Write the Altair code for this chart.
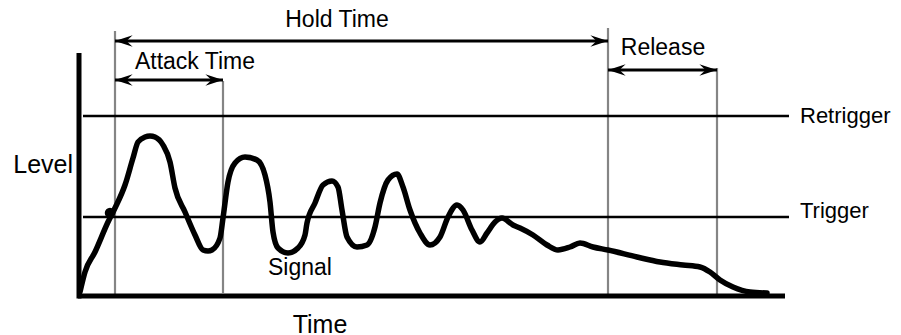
import altair as alt
import pandas as pd

# ---- data (time units ~ px from the level axis, level units ~ px above the time axis)
signal_time = [1, 6, 16, 29, 36, 46, 54, 59, 66, 71, 76, 84, 91, 96, 106, 116, 124, 129, 133,
               141, 144, 149, 156, 166, 178, 186, 191, 194, 199, 209, 219, 226, 228, 236, 244,
               253, 259, 263, 268, 278, 288, 296, 301, 309, 318, 324, 331, 341, 351, 361, 369,
               378, 384, 393, 401, 408, 416, 423, 434, 441, 454, 468, 479, 491, 501, 514, 529,
               558, 581, 604, 621, 631, 641, 654, 671, 688]
signal_level = [4, 24, 44, 74, 88, 111, 138, 154, 159, 160, 159, 151, 134, 108, 84, 61, 46, 45, 46,
                58, 78, 114, 133, 139, 136, 121, 94, 64, 48, 43, 48, 61, 73, 93, 111,
                115, 109, 86, 59, 49, 51, 69, 93, 116, 122, 109, 86, 63, 51, 59, 79,
                91, 86, 66, 54, 63, 74, 78, 71, 68, 61, 51, 46, 49, 53, 49, 46,
                39, 34, 31, 29, 24, 16, 9, 4, 3]

dot_time = [31]
dot_level = [83]

threshold_names = ["Retrigger", "Trigger"]
threshold_levels = [180, 79]
threshold_start = [4, 4]
threshold_end = [710, 710]
threshold_label_time = [721, 721]
threshold_label_level = [173, 78]

marker_times = [36, 144, 529, 638]
marker_tops = [265, 215, 268, 228]
marker_bottoms = [-1, 3, 2, 0]

span_names = ["Hold Time", "Attack Time", "Release"]
span_start = [36, 36, 529]
span_end = [529, 144, 638]
span_levels = [255, 216, 226]
span_label_time = [258, 116, 584]
span_label_level = [269, 227, 241]

axis_names = ["Level", "Time"]
axis_label_time = [-6, 241]
axis_label_level = [123, -37]

signal_name = ["Signal"]
signal_label_time = [189]
signal_label_level = [21]

axis_line_x = {"t0": [-1], "t1": [706], "level": [0]}
axis_line_y = {"t": [0], "l0": [-2.5], "l1": [243]}

# ---- chart geometry
W, H = 885, 327
xs = alt.Scale(domain=[-71, -71 + W], nice=False, zero=False)
ys = alt.Scale(domain=[288 - H, 288], nice=False, zero=False)
FONT = "Liberation Sans"

sig_df = pd.DataFrame({"t": signal_time, "level": signal_level})
dot_df = pd.DataFrame({"t": dot_time, "level": dot_level})
thr_df = pd.DataFrame({"name": threshold_names, "level": threshold_levels,
                       "t0": threshold_start, "t1": threshold_end,
                       "lt": threshold_label_time, "ll": threshold_label_level})
mk_df = pd.DataFrame({"t": marker_times, "l0": marker_bottoms, "l1": marker_tops})
sp_df = pd.DataFrame({"name": span_names, "t0": span_start, "t1": span_end,
                      "level": span_levels, "lt": span_label_time, "ll": span_label_level})
ax_df = pd.DataFrame({"name": axis_names, "t": axis_label_time, "level": axis_label_level})
sl_df = pd.DataFrame({"name": signal_name, "t": signal_label_time, "level": signal_label_level})
axx_df = pd.DataFrame(axis_line_x)
axy_df = pd.DataFrame(axis_line_y)

markers = alt.Chart(mk_df).mark_rule(color="#858585", strokeWidth=2.2).encode(
    x=alt.X("t:Q", scale=xs, axis=None),
    y=alt.Y("l0:Q", scale=ys, axis=None), y2="l1:Q")

thresholds = alt.Chart(thr_df).mark_rule(color="black", strokeWidth=2.5).encode(
    x=alt.X("t0:Q", scale=xs, axis=None), x2="t1:Q",
    y=alt.Y("level:Q", scale=ys, axis=None))

thr_labels = alt.Chart(thr_df).mark_text(
    align="left", baseline="alphabetic", font=FONT, fontSize=22, color="black").encode(
    x=alt.X("lt:Q", scale=xs, axis=None), y=alt.Y("ll:Q", scale=ys, axis=None), text="name:N")

x_axis = alt.Chart(axx_df).mark_rule(color="black", strokeWidth=5).encode(
    x=alt.X("t0:Q", scale=xs, axis=None), x2="t1:Q",
    y=alt.Y("level:Q", scale=ys, axis=None))
y_axis = alt.Chart(axy_df).mark_rule(color="black", strokeWidth=5).encode(
    x=alt.X("t:Q", scale=xs, axis=None),
    y=alt.Y("l0:Q", scale=ys, axis=None), y2="l1:Q")

signal = alt.Chart(sig_df).mark_line(
    color="black", strokeWidth=5.5, interpolate="monotone",
    strokeCap="round", strokeJoin="round").encode(
    x=alt.X("t:Q", scale=xs, axis=None), y=alt.Y("level:Q", scale=ys, axis=None),
    order="t:Q")

dot = alt.Chart(dot_df).mark_point(filled=True, color="black", size=110, opacity=1).encode(
    x=alt.X("t:Q", scale=xs, axis=None), y=alt.Y("level:Q", scale=ys, axis=None))

spans = alt.Chart(sp_df).mark_rule(color="black", strokeWidth=2.8).encode(
    x=alt.X("t0:Q", scale=xs, axis=None), x2="t1:Q",
    y=alt.Y("level:Q", scale=ys, axis=None))

RIGHT_HEAD = "M0,0 L-2,-0.65 L-1.3,0 L-2,0.65 Z"
LEFT_HEAD = "M0,0 L2,-0.65 L1.3,0 L2,0.65 Z"
heads_r = alt.Chart(sp_df).mark_point(shape=RIGHT_HEAD, filled=True, color="black",
                                      size=310, opacity=1).encode(
    x=alt.X("t1:Q", scale=xs, axis=None), y=alt.Y("level:Q", scale=ys, axis=None))
heads_l = alt.Chart(sp_df).mark_point(shape=LEFT_HEAD, filled=True, color="black",
                                      size=310, opacity=1).encode(
    x=alt.X("t0:Q", scale=xs, axis=None), y=alt.Y("level:Q", scale=ys, axis=None))

span_labels = alt.Chart(sp_df).mark_text(
    align="center", baseline="alphabetic", font=FONT, fontSize=23, color="black").encode(
    x=alt.X("lt:Q", scale=xs, axis=None), y=alt.Y("ll:Q", scale=ys, axis=None), text="name:N")

level_label = alt.Chart(ax_df[ax_df["name"] == "Level"]).mark_text(
    align="right", baseline="alphabetic", font=FONT, fontSize=25, color="black").encode(
    x=alt.X("t:Q", scale=xs, axis=None), y=alt.Y("level:Q", scale=ys, axis=None), text="name:N")
time_label = alt.Chart(ax_df[ax_df["name"] == "Time"]).mark_text(
    align="center", baseline="alphabetic", font=FONT, fontSize=25, color="black").encode(
    x=alt.X("t:Q", scale=xs, axis=None), y=alt.Y("level:Q", scale=ys, axis=None), text="name:N")

sig_label = alt.Chart(sl_df).mark_text(
    align="left", baseline="alphabetic", font=FONT, fontSize=23, color="black").encode(
    x=alt.X("t:Q", scale=xs, axis=None), y=alt.Y("level:Q", scale=ys, axis=None), text="name:N")

chart = alt.layer(
    markers, thresholds, thr_labels, x_axis, y_axis, signal, dot,
    spans, heads_r, heads_l, span_labels, level_label, time_label, sig_label
).properties(
    width=W, height=H, padding=0,
    autosize=alt.AutoSizeParams(type="none"),
    background="white"
).configure_view(strokeWidth=0)

chart.save("out.html", embed_options={"renderer": "svg", "actions": False})
